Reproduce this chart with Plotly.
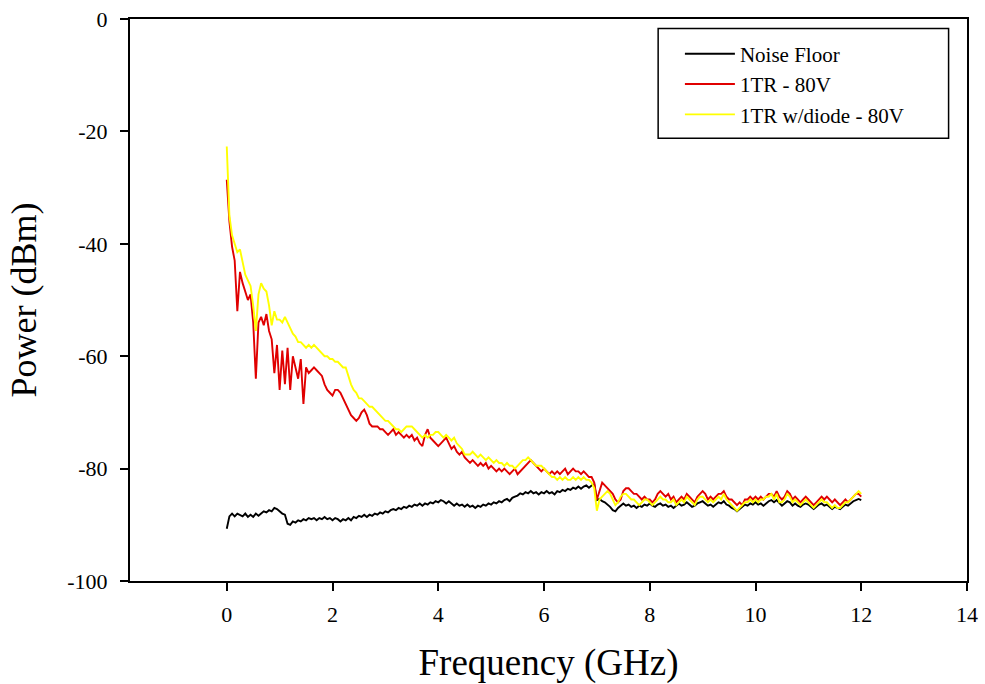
import plotly.graph_objects as go

# Frequency sweep (GHz), 0.05 GHz step from 0 to 12
freq = [round(i * 0.05, 2) for i in range(241)]

noise_floor = [
    -90.7, -88.5, -88, -88.5, -88, -88.3, -88.5, -88, -88.6, -88.2, -88.6, -88, -88.4, -88, -87.6, -87.8, -87.4, -87.6, -87, -87.2,
    -87.6, -88, -88.2, -89.8, -90, -89.4, -89.6, -89.2, -89.4, -89, -89.2, -88.8, -89, -88.8, -89.2, -88.8, -89, -88.6, -89, -88.8,
    -89.2, -88.8, -89, -89.4, -89, -89.2, -88.8, -89.2, -88.6, -88.8, -88.4, -88.6, -88.2, -88.6, -88.2, -88.4, -88, -88.2, -87.8, -88,
    -87.6, -87.8, -87.4, -87.2, -87.4, -87, -87.2, -86.8, -87, -86.6, -86.8, -86.4, -86.6, -86.2, -86.6, -86.2, -86.4, -86, -86.2, -85.8,
    -86, -85.6, -85.8, -86.2, -85.8, -86.2, -86.6, -86.2, -86.6, -86.4, -86.8, -86.4, -86.8, -86.6, -87, -86.6, -86.8, -86.4, -86.6, -86.2,
    -86.4, -86, -86.2, -85.8, -86, -85.6, -85.4, -85.8, -85.2, -85, -84.8, -84.4, -84.6, -84.2, -84.4, -84, -84.4, -84.2, -84.6, -84.2,
    -84.4, -84, -84.4, -84.2, -84.6, -84, -84.2, -83.8, -84, -83.6, -83.8, -83.4, -83.6, -83.2, -83.6, -83.2, -83, -83.4, -83, -82.8,
    -85.6, -85.4, -85.8, -86, -86.4, -86.8, -87.4, -87.6, -87, -86.6, -86.2, -86.6, -86.4, -86.8, -86.6, -87, -86.6, -86.8, -86.4, -86.6,
    -86.2, -86.6, -86.8, -86.4, -86.2, -86.6, -86.4, -86.8, -86.6, -87, -86.6, -86.2, -86.6, -86.4, -86, -86.4, -86.8, -86.6, -86.2, -86,
    -85.8, -86.2, -86.6, -86.4, -86.8, -86.4, -86, -86.2, -85.8, -86.4, -86.6, -87, -87.2, -87.6, -87.2, -86.8, -86.4, -86.6, -86.2, -86.4,
    -86, -86.4, -86.2, -86.6, -86.2, -85.8, -85.6, -86, -85.6, -86.2, -86.6, -86.2, -85.8, -86, -86.6, -86.2, -86.6, -86.8, -86.4, -86.2,
    -86.4, -86.8, -87.2, -86.8, -86.4, -86.2, -86.6, -86.4, -86.8, -87.2, -86.8, -87, -87.2, -86.8, -86.4, -86.6, -86.2, -85.8, -85.6, -85.4,
    -85.6,
]

tr_80v = [
    -28.6, -36, -40.5, -43, -52, -45, -47, -48.5, -50, -49, -54, -64, -54, -53, -54.5, -52.5, -55.5, -57, -63, -58,
    -66, -59, -65, -58.5, -66, -60, -62, -64, -60.5, -68.5, -62, -63, -62.5, -62, -62.5, -63, -63.5, -65, -66, -66.5,
    -67, -66, -66, -66.5, -67.5, -68.5, -69.5, -70.5, -71, -71.5, -71, -70, -69.5, -70.5, -72, -72.5, -72.5, -72.5, -73, -73,
    -73.5, -74, -73.5, -73, -74, -73.5, -74, -74.5, -74, -74.5, -74, -75, -74.5, -75.5, -76, -74, -73, -74.5, -75, -75.5,
    -76, -75.5, -75, -74.5, -75.5, -76.5, -76, -77, -77.5, -77, -78, -78.5, -79, -78.5, -79, -79.5, -79, -79.5, -79, -80,
    -79.5, -80, -80.5, -80, -80.5, -80, -80.5, -81, -80.5, -80, -81, -80.5, -80, -79.5, -79, -78.5, -79, -79.5, -80, -80.5,
    -80, -80.5, -81, -80.5, -81, -80.5, -81, -80.5, -80, -81, -80.5, -80, -80.5, -80.5, -81, -80.5, -81, -81.5, -81.5, -82.5,
    -85.5, -84, -82.5, -83, -83.5, -84, -84.5, -85.5, -86, -85.5, -84, -83.5, -83.5, -84, -84.5, -84.5, -85, -85.5, -85, -85.5,
    -85.5, -86, -85.5, -84.5, -84, -84.5, -85, -84.5, -85.5, -85, -86, -85.5, -85, -85.5, -84.5, -85, -85.5, -86, -85, -84.5,
    -84, -84.5, -85.5, -85, -85.5, -85, -84.5, -84.5, -84, -85, -85.5, -85.5, -86, -86.5, -86, -86.5, -85.5, -85.5, -85, -85.5,
    -85, -85.5, -85, -85.5, -85, -84.5, -84.5, -85, -84, -85, -85.5, -85, -84, -84.5, -85.5, -85, -85.5, -86, -85.5, -85,
    -85.5, -86, -86.5, -86, -85.5, -85, -85.5, -85, -85.5, -86, -85.5, -86, -86.5, -86, -85.5, -86, -85.5, -85, -84.5, -84.5,
    -85,
]

tr_diode_80v = [
    -22.7, -35, -38.5, -40, -41.5, -41, -43, -45.5, -46.5, -47.5, -51, -55.5, -49, -47, -48, -48.5, -51, -54.5, -52, -53.5,
    -53.5, -54, -53, -54, -55, -56, -56.5, -57.5, -57.5, -58, -58.5, -58, -58.5, -58, -58.5, -59, -59.5, -60, -60, -60.5,
    -60.5, -61, -61, -61.5, -62, -62, -63.5, -65, -66, -66.5, -67.5, -67.5, -68, -68.5, -69, -69, -69.5, -70, -70.5, -71,
    -71.5, -71.5, -72, -72.5, -73, -73, -73.5, -73, -72.5, -72.5, -72.5, -73, -73.5, -74, -74.5, -74, -74.5, -74, -74, -73.5,
    -73.5, -74, -74.5, -74, -74.5, -75, -74.5, -75.5, -76, -76.5, -77.5, -77.5, -77.5, -77, -77.5, -78, -77.5, -78, -78.5, -78,
    -78.5, -79, -78.5, -79, -79, -79.5, -79, -79.5, -79.5, -80, -79.5, -79, -78.5, -78.5, -78, -78.5, -79, -79.5, -79.5, -79.5,
    -80, -80.5, -81, -81.5, -81.5, -82, -81.5, -82, -81.5, -82, -82, -81.5, -82, -81.5, -82, -81.5, -82, -82, -82.5, -83.5,
    -87.5, -85.5, -85, -84.5, -84, -84.5, -85.5, -86.5, -86, -85, -84.5, -84.5, -85, -85.5, -85.5, -86, -86.5, -86, -85.5, -85.5,
    -86, -86.5, -86, -85.5, -85, -85.5, -85.5, -86, -86, -85.5, -86.5, -86, -85.5, -86, -85, -85.5, -86, -86.5, -85.5, -85,
    -85, -85.5, -86, -85.5, -86, -85.5, -85, -85.5, -84.5, -85.5, -86, -86.5, -87, -87.5, -87, -86.5, -86, -86, -85.5, -86,
    -85.5, -86, -85.5, -85.5, -85, -85, -84.5, -85.5, -84.5, -86, -86, -85.5, -84.5, -85, -86, -85.5, -86, -86.5, -86, -85.5,
    -86, -86.5, -87, -86.5, -86, -85.5, -86, -86, -86.5, -87, -86.5, -87, -87, -86.5, -86, -86, -85.5, -85, -84.5, -84,
    -84.5,
]

series_names = ["Noise Floor", "1TR - 80V", "1TR w/diode - 80V"]
series_colors = ["#000000", "#e00000", "#ffff00"]
x_ticks = [0, 2, 4, 6, 8, 10, 12, 14]
x_tick_labels = ["0", "2", "4", "6", "8", "10", "12", "14"]
y_ticks = [0, -20, -40, -60, -80, -100]
y_tick_labels = ["0", "-20", "-40", "-60", "-80", "-100"]

FONT = "Times New Roman, Liberation Serif, serif"

fig = go.Figure()
for name, ys, col in zip(series_names, [noise_floor, tr_80v, tr_diode_80v], series_colors):
    fig.add_trace(go.Scatter(x=freq, y=ys, mode="lines", name=name,
                             line=dict(color=col, width=1.9)))

fig.update_layout(
    width=985, height=684,
    margin=dict(l=130, r=18, t=19, b=103),
    paper_bgcolor="white", plot_bgcolor="white",
    font=dict(family=FONT, color="black", size=20),
    showlegend=True,
    legend=dict(x=0.657, y=0.974, xanchor="left", yanchor="top",
                bgcolor="rgba(0,0,0,0)", borderwidth=0,
                font=dict(family=FONT, size=21, color="black"),
                itemwidth=50, tracegroupgap=0),
    shapes=[dict(type="rect", xref="paper", yref="paper",
                 x0=0.631, x1=0.978, y0=0.788, y1=0.983,
                 line=dict(color="black", width=1.5))],
)
fig.update_xaxes(range=[-1.83, 14], tickvals=x_ticks, ticktext=x_tick_labels,
                 ticks="outside", ticklen=8, automargin=False,
                 tickwidth=2, tickcolor="black", showline=True, linewidth=2,
                 linecolor="black", mirror=True, showgrid=False, zeroline=False,
                 tickfont=dict(family=FONT, size=22), ticklabelstandoff=5,
                 title=dict(text="Frequency (GHz)", font=dict(family=FONT, size=37), standoff=30))
fig.update_yaxes(range=[-100, 0], tickvals=y_ticks, ticktext=y_tick_labels,
                 ticks="outside", ticklen=8, automargin=False,
                 tickwidth=2, tickcolor="black", showline=True, linewidth=2,
                 linecolor="black", mirror=True, showgrid=False, zeroline=False,
                 tickfont=dict(family=FONT, size=22), ticklabelstandoff=8,
                 title=dict(text="Power (dBm)", font=dict(family=FONT, size=36), standoff=20))

fig.write_html("out.html")
